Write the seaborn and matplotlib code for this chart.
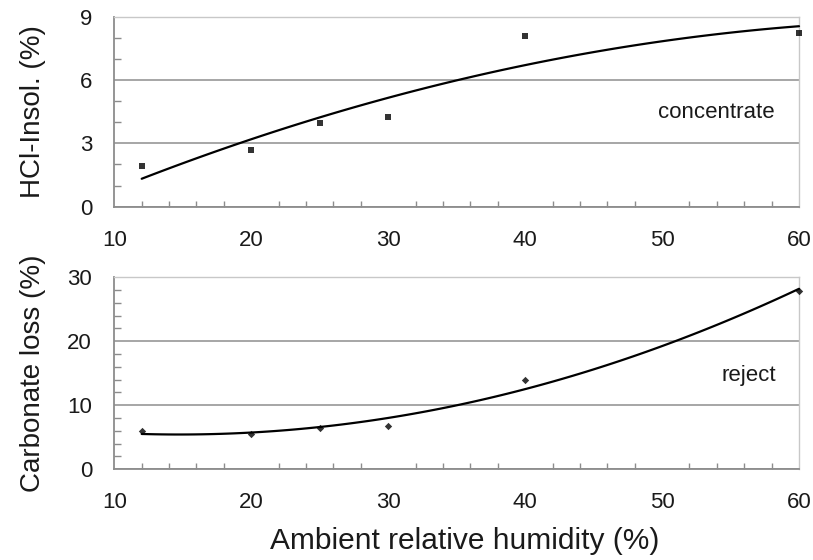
import matplotlib
matplotlib.use("Agg")
import numpy as np
import pandas as pd
import matplotlib.pyplot as plt
import seaborn as sns
from matplotlib.ticker import MultipleLocator

# humidity levels (%)
humidity = [12, 20, 25, 30, 40, 60]
# HCl-insoluble content in concentrate (%)
hcl_insol = [1.93, 2.69, 3.97, 4.24, 8.09, 8.24]
# carbonate loss in reject (%)
carb_loss = [5.98, 5.5, 6.5, 6.77, 13.95, 27.9]

df = pd.DataFrame({"rh": humidity, "hcl": hcl_insol, "carb": carb_loss})

sns.set_style("white")
plt.rcParams['font.family'] = ['Liberation Sans', 'DejaVu Sans']

GRID = '#a6a6a6'
SPINE = '#8c8c8c'
TXT = '#1a1a1a'

fig = plt.figure(figsize=(8.13, 5.6), dpi=100)
ax1 = fig.add_axes([0.1406, 0.6309, 0.8422, 0.3393])
ax2 = fig.add_axes([0.1406, 0.1620, 0.8422, 0.3429])

#####################################
# top: HCl-Insol. vs humidity (2nd order trendline)
sns.regplot(data=df, x="rh", y="hcl", order=2, ci=None, ax=ax1,
            marker='s', color='black',
            scatter_kws={'s': 20, 'clip_on': False, 'zorder': 5, 'linewidths': 0},
            line_kws={'linewidth': 1.6, 'clip_on': False, 'zorder': 4})
ax1.set_ylim(0, 9)
ax1.yaxis.set_major_locator(MultipleLocator(3))
ax1.yaxis.set_minor_locator(MultipleLocator(1))
ax1.set_ylabel("HCl-Insol. (%)", fontsize=20, color=TXT)
ax1.text(58.2, 4.45, "concentrate", fontsize=16, ha='right', va='center', color=TXT)

#####################################
# bottom: carbonate loss vs humidity
sns.regplot(data=df, x="rh", y="carb", order=2, ci=None, ax=ax2,
            marker='D', color='black',
            scatter_kws={'s': 14, 'clip_on': False, 'zorder': 5, 'linewidths': 0},
            line_kws={'linewidth': 1.6, 'clip_on': False, 'zorder': 4})
ax2.set_ylim(0, 30)
ax2.yaxis.set_major_locator(MultipleLocator(10))
ax2.yaxis.set_minor_locator(MultipleLocator(2))
ax2.set_ylabel("Carbonate loss (%)", fontsize=20, color=TXT)
ax2.set_xlabel("Ambient relative humidity (%)", fontsize=21.5, color=TXT)
ax2.xaxis.set_label_coords(0.512, -0.30)
ax2.text(58.3, 14.7, "reject", fontsize=16, ha='right', va='center', color=TXT)

for ax in (ax1, ax2):
    ax.set_xlim(10, 60)
    ax.xaxis.set_major_locator(MultipleLocator(10))
    ax.xaxis.set_minor_locator(MultipleLocator(2))
    ax.grid(True, axis='y', which='major', color=GRID, linewidth=1.4)
    ax.set_axisbelow(True)
    for side in ('left', 'bottom'):
        ax.spines[side].set_color(SPINE)
        ax.spines[side].set_linewidth(1.3)
    for side in ('top', 'right'):
        ax.spines[side].set_color('#c8c8c8')
        ax.spines[side].set_linewidth(1.0)
    ax.tick_params(axis='x', which='major', direction='inout', length=11, width=1.2,
                   color=SPINE, labelsize=16, labelcolor=TXT, pad=11)
    ax.tick_params(axis='x', which='minor', direction='in', length=4, width=1.0,
                   color=SPINE, bottom=True)
    ax.tick_params(axis='y', which='major', direction='out', length=7, width=1.2,
                   color=SPINE, labelsize=16, labelcolor=TXT, pad=9)
    ax.tick_params(axis='y', which='minor', direction='in', length=5, width=1.0,
                   color=SPINE, left=True)
    ax.yaxis.set_label_coords(-0.10, 0.5)

ax1.set_xlabel("")

fig.savefig("out.png", dpi=100)
